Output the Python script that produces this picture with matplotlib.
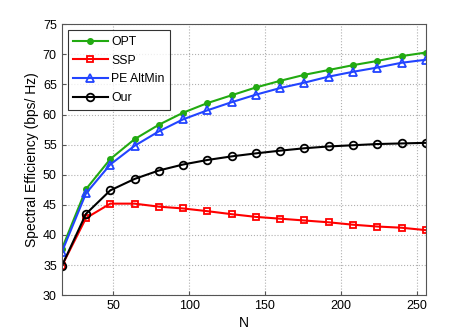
import matplotlib
matplotlib.use("Agg")
import matplotlib.pyplot as plt

plt.rcParams['font.family'] = ['Liberation Sans', 'DejaVu Sans']

N = [16, 32, 48, 64, 80, 96, 112, 128, 144, 160, 176, 192, 208, 224, 240, 256]
opt = [37.6, 47.6, 52.6, 55.9, 58.3, 60.3, 61.9, 63.2, 64.5, 65.6, 66.6, 67.4, 68.2, 68.9, 69.7, 70.3]
ssp = [34.8, 42.8, 45.2, 45.2, 44.7, 44.4, 43.95, 43.45, 43.0, 42.7, 42.4, 42.1, 41.7, 41.4, 41.2, 40.8]
pe = [37.1, 46.9, 51.7, 54.8, 57.2, 59.2, 60.7, 62.05, 63.3, 64.4, 65.3, 66.3, 67.1, 67.8, 68.6, 69.1]
our = [34.8, 43.5, 47.4, 49.3, 50.7, 51.7, 52.45, 53.05, 53.55, 54.0, 54.4, 54.7, 54.9, 55.1, 55.2, 55.3]

labels = ['OPT', 'SSP', 'PE AltMin', 'Our']
xticks = [50, 100, 150, 200, 250]
yticks = [30, 35, 40, 45, 50, 55, 60, 65, 70, 75]

fig = plt.figure(figsize=(4.71, 3.32), dpi=100)
ax = fig.add_axes([0.131, 0.111, 0.773, 0.816])

ax.plot(N, opt, '-', color='#22aa11', lw=1.5, marker='o', ms=4,
        mfc='#22aa11', mec='#22aa11', label=labels[0])
ax.plot(N, ssp, '-', color='#ff0000', lw=1.5, marker='s', ms=4.5,
        mfc='none', mec='#ff0000', mew=1.3, label=labels[1])
ax.plot(N, pe, '-', color='#2244ff', lw=1.5, marker='^', ms=6,
        mfc='none', mec='#2244ff', mew=1.3, label=labels[2])
ax.plot(N, our, '-', color='black', lw=1.5, marker='o', ms=5.5,
        mfc='none', mec='black', mew=1.3, label=labels[3])

ax.set_xlim(16, 256)
ax.set_ylim(30, 75)
ax.set_xticks(xticks)
ax.set_yticks(yticks)
ax.grid(True, linestyle=':', color='#b0b0b0', lw=0.8)
ax.tick_params(direction='in', labelsize=9, length=3, color='#555555')
for s in ax.spines.values():
    s.set_color('#555555')
ax.set_xlabel('N', fontsize=10, labelpad=3)
ax.set_ylabel('Spectral Efficiency (bps/ Hz)', fontsize=10, labelpad=3)

leg = ax.legend(loc='upper left', fontsize=8.8, handlelength=2.8,
                frameon=True, fancybox=False, edgecolor='black',
                borderaxespad=0.5, labelspacing=0.55, handletextpad=0.3,
                borderpad=0.45)
leg.get_frame().set_linewidth(0.8)

fig.savefig('out.png', dpi=100)
